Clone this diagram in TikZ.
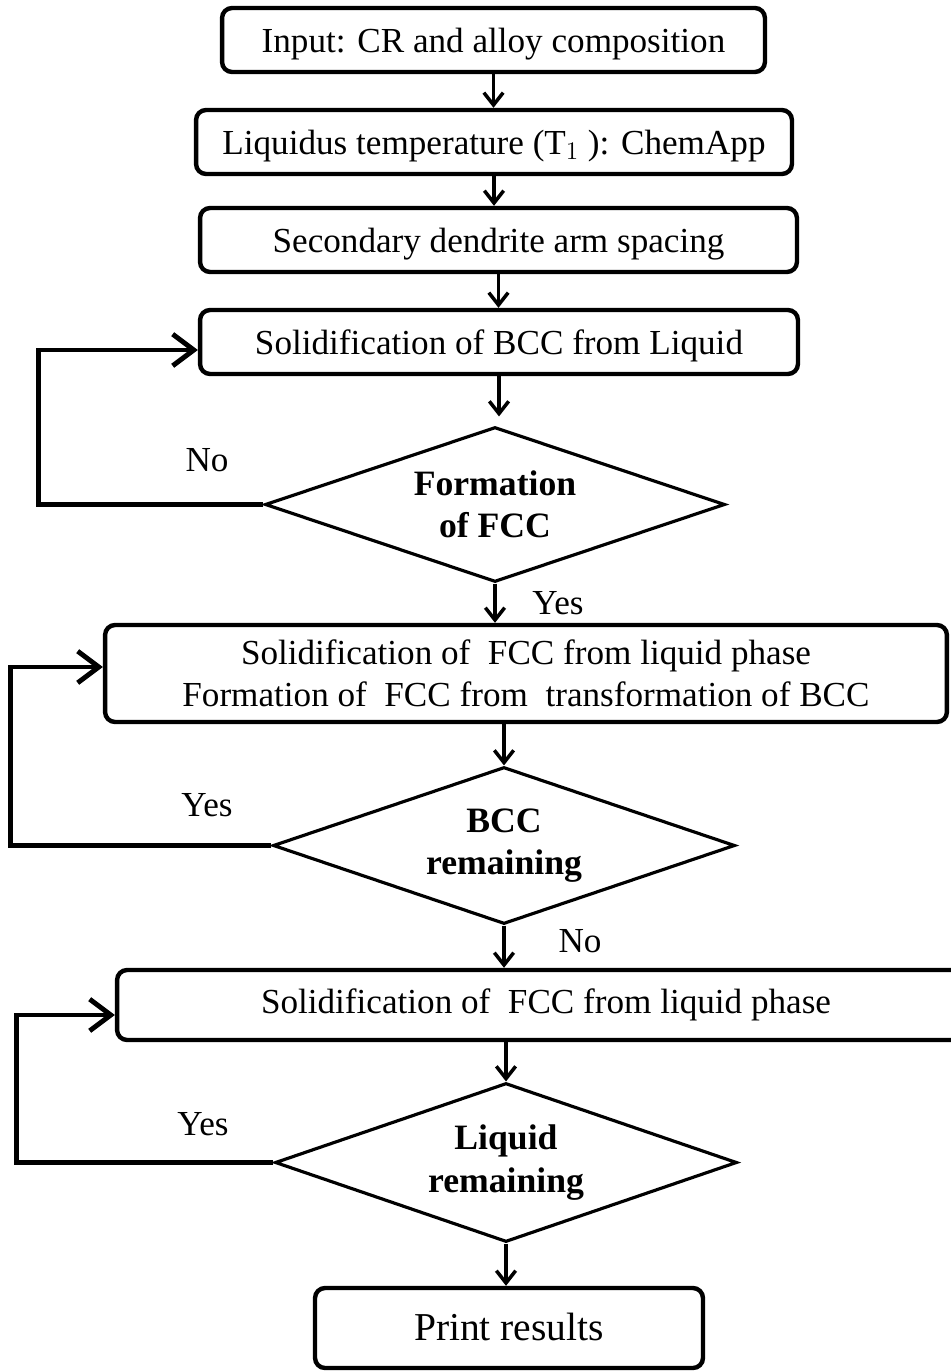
\documentclass[tikz,border=0pt]{standalone}
\usepackage{fontspec}
\setmainfont{Liberation Serif}
\usetikzlibrary{shapes.geometric,arrows.meta}
\tikzset{>={Straight Barb[length=7pt,width=11pt]}}

\begin{document}
\begin{tikzpicture}[x=0.02cm,y=-0.02cm,
    font=\fontsize{20}{24}\selectfont,
    box/.style={draw, line width=2.5pt, rounded corners=0.2cm, inner sep=0pt, align=center, minimum height=1.28cm},
    onel/.style={text height=14pt, text depth=0pt},
    test/.style={draw, diamond, aspect=3, line width=1.8pt, inner sep=0pt, align=center,
        font=\fontsize{20.3}{24}\bfseries\selectfont},
    flow/.style={->, line width=2pt},
    loop/.style={-{Straight Barb[length=12pt,width=18pt]}, line width=2.8pt},
    lbl/.style={inner sep=0pt}]
    \useasboundingbox (0,0) rectangle (950,1371);

    % boxes
    \node[box, onel, minimum width=10.86cm] (input) at (493.5,40) {Input: CR and alloy composition};
    \node[box, onel, minimum width=11.92cm] (liquidus) at (494,142) {Liquidus temperature (T$_1$ ): ChemApp};
    \node[box, onel, minimum width=11.94cm] (sdas) at (498.5,240) {Secondary dendrite arm spacing};
    \node[box, onel, minimum width=11.96cm] (bcc) at (499,342) {Solidification of BCC from Liquid};
    \node[test, minimum width=9.2cm, minimum height=3.1cm] (fccchk) at (495,504.5) {Formation\\of FCC};
    \node[box, minimum width=16.84cm, minimum height=1.94cm] (fcc) at (526,673.5)
        {Solidification of\ \ FCC from liquid phase\\Formation of\ \ FCC from\ \ transformation of BCC};
    \node[test, minimum width=9.24cm, minimum height=3.14cm] (bccchk) at (504,845.5) {BCC\\remaining};
    \node[box, minimum width=17.16cm, minimum height=1.4cm] (fccliq) at (546,1005) {Solidification of\ \ FCC from liquid phase};
    \node[test, minimum width=9.24cm, minimum height=3.18cm] (liqchk) at (506,1162.5) {Liquid\\remaining};
    \node[box, onel, minimum width=7.76cm, minimum height=1.6cm, font=\fontsize{22.5}{27}\selectfont] (print) at (509,1328) {Print results};

    % labels
    \node[lbl] (no1) at (207,460) {No};
    \node[lbl] (yes1) at (558,603) {Yes};
    \node[lbl] (yes2) at (207,805) {Yes};
    \node[lbl] (no2) at (580,941) {No};
    \node[lbl] (yes3) at (203,1124) {Yes};

    % main flow
    \draw[flow] (input.south) -- (input.south |- liquidus.north);
    \draw[flow] (liquidus.south) -- (liquidus.south |- sdas.north);
    \draw[flow] (sdas.south) -- (sdas.south |- bcc.north);
    \draw[flow] (bcc.south) -- ([yshift=0.18cm]bcc.south |- fccchk.north);
    \draw[flow] (fccchk.south) -- (fccchk.south |- fcc.north);
    \draw[flow] (bccchk.north |- fcc.south) -- (bccchk.north);
    \draw[flow] (bccchk.south) -- (bccchk.south |- fccliq.north);
    \draw[flow] (liqchk.north |- fccliq.south) -- (liqchk.north);
    \draw[flow] (liqchk.south) -- (liqchk.south |- print.north);

    % feedback loops
    \draw[loop] (fccchk.west) -- ++(-225,0) |- ([yshift=-0.16cm]bcc.west);
    \draw[loop] (bccchk.west) -- ++(-261,0) |- ([yshift=0.13cm]fcc.west);
    \draw[loop] (liqchk.west) -- ++(-257,0) |- ([yshift=-0.2cm]fccliq.west);
\end{tikzpicture}
\end{document}
